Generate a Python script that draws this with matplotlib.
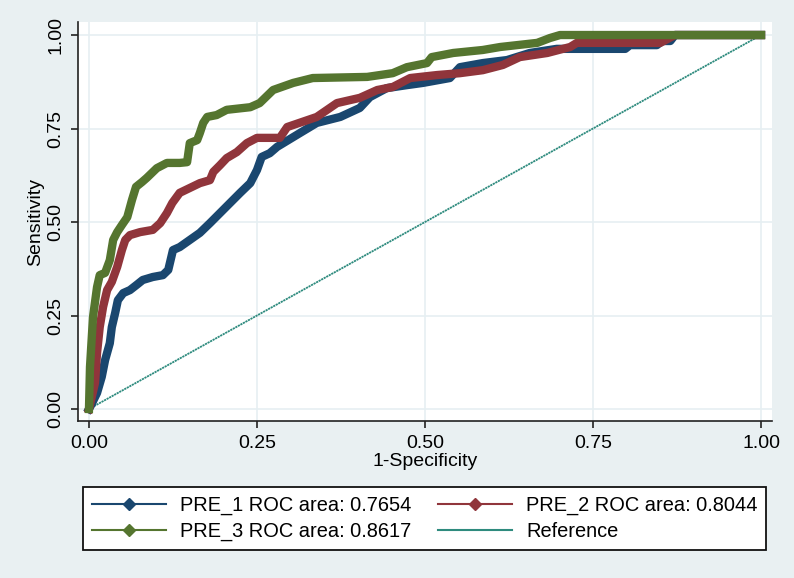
import matplotlib.pyplot as plt
from matplotlib.lines import Line2D

plt.rcParams['font.family'] = ['Liberation Sans', 'DejaVu Sans']

# ROC points (1-specificity, sensitivity)
pre1_x = [0.0, 0.003, 0.012, 0.019, 0.024, 0.031, 0.034, 0.039, 0.043, 0.051, 0.061, 0.071,
          0.080, 0.095, 0.110, 0.118, 0.125, 0.135, 0.150, 0.165, 0.180, 0.195, 0.210, 0.225,
          0.240, 0.250, 0.257, 0.269, 0.280, 0.314, 0.339, 0.374, 0.403, 0.418, 0.443, 0.473,
          0.497, 0.537, 0.552, 0.586, 0.622, 0.656, 0.696, 0.798, 0.805, 0.845, 0.853, 0.865,
          0.872, 1.0]
pre1_y = [0.0, 0.010, 0.043, 0.086, 0.131, 0.176, 0.219, 0.257, 0.291, 0.310, 0.318, 0.332,
          0.345, 0.353, 0.358, 0.372, 0.425, 0.433, 0.452, 0.471, 0.497, 0.524, 0.551, 0.578,
          0.604, 0.639, 0.674, 0.684, 0.701, 0.738, 0.765, 0.781, 0.805, 0.834, 0.858, 0.866,
          0.872, 0.885, 0.914, 0.925, 0.933, 0.952, 0.963, 0.963, 0.973, 0.973, 0.984, 0.984,
          1.0, 1.0]

pre2_x = [0.0, 0.009, 0.012, 0.016, 0.021, 0.027, 0.034, 0.042, 0.049, 0.054, 0.061, 0.076,
          0.095, 0.106, 0.116, 0.124, 0.135, 0.150, 0.165, 0.180, 0.185, 0.195, 0.205, 0.220,
          0.235, 0.250, 0.284, 0.295, 0.339, 0.369, 0.403, 0.429, 0.452, 0.478, 0.518, 0.552,
          0.586, 0.616, 0.641, 0.682, 0.716, 0.726, 0.850, 0.872, 1.0]
pre2_y = [0.0, 0.070, 0.150, 0.219, 0.273, 0.318, 0.340, 0.380, 0.425, 0.452, 0.465, 0.473,
          0.479, 0.497, 0.524, 0.551, 0.578, 0.591, 0.604, 0.612, 0.634, 0.652, 0.671, 0.687,
          0.711, 0.725, 0.725, 0.754, 0.781, 0.818, 0.832, 0.853, 0.861, 0.885, 0.893, 0.898,
          0.906, 0.920, 0.941, 0.952, 0.968, 0.979, 0.979, 1.0, 1.0]

pre3_x = [0.0, 0.0015, 0.006, 0.012, 0.016, 0.024, 0.031, 0.036, 0.042, 0.049, 0.057, 0.064,
          0.070, 0.079, 0.086, 0.101, 0.116, 0.135, 0.146, 0.150, 0.161, 0.165, 0.170, 0.176,
          0.190, 0.205, 0.240, 0.254, 0.274, 0.304, 0.333, 0.414, 0.452, 0.473, 0.503, 0.510,
          0.542, 0.586, 0.612, 0.667, 0.686, 0.701, 1.0]
pre3_y = [0.0, 0.112, 0.246, 0.326, 0.358, 0.364, 0.398, 0.452, 0.473, 0.492, 0.513, 0.559,
          0.594, 0.607, 0.618, 0.644, 0.658, 0.658, 0.660, 0.711, 0.719, 0.738, 0.765, 0.781,
          0.786, 0.800, 0.807, 0.818, 0.853, 0.872, 0.885, 0.888, 0.898, 0.914, 0.925, 0.941,
          0.952, 0.960, 0.968, 0.979, 0.992, 1.0, 1.0]

ref_x = [0, 1]
ref_y = [0, 1]

labels = ['PRE_1 ROC area: 0.7654', 'PRE_2 ROC area: 0.8044',
          'PRE_3 ROC area: 0.8617', 'Reference']
ticks = [0.0, 0.25, 0.5, 0.75, 1.0]
tick_labels = ['0.00', '0.25', '0.50', '0.75', '1.00']

c1, c2, c3, cref = '#1a476f', '#90353b', '#55752f', '#2e8b7e'
bg = '#e9f0f2'

fig = plt.figure(figsize=(7.94, 5.78), dpi=100, facecolor=bg)
ax = fig.add_axes([0.0982, 0.2716, 0.8741, 0.6903], facecolor='white')

ax.plot(ref_x, ref_y, color=cref, lw=1.3, ls=(0, (1.2, 0.4)), zorder=2)
ax.plot(pre1_x, pre1_y, color=c1, lw=6, solid_joinstyle='round', zorder=3)
ax.plot(pre2_x, pre2_y, color=c2, lw=6, solid_joinstyle='round', zorder=4)
ax.plot(pre3_x, pre3_y, color=c3, lw=6, solid_joinstyle='round', zorder=5)

ax.set_xlim(-11 / 672, 1 + 11 / 672)
ax.set_ylim(-12 / 374, 1 + 13 / 374)
ax.set_xticks(ticks)
ax.set_xticklabels(tick_labels)
ax.set_yticks(ticks)
ax.set_yticklabels(tick_labels, rotation=90, va='center')
ax.grid(True, color='#e6eff2', lw=1.2, zorder=0)
ax.set_axisbelow(True)
for s in ['top', 'right']:
    ax.spines[s].set_visible(False)
for s in ['left', 'bottom']:
    ax.spines[s].set_color('#222222')
    ax.spines[s].set_linewidth(1.2)
ax.tick_params(direction='out', length=5, width=1.2, color='#222222',
               labelsize=14, pad=5)
ax.set_xlabel('1-Specificity', fontsize=14, labelpad=1)
ax.set_ylabel('Sensitivity', fontsize=14, labelpad=2)

h1 = Line2D([], [], color=c1, lw=1.5, marker='D', markersize=6)
h2 = Line2D([], [], color=c2, lw=1.5, marker='D', markersize=6)
h3 = Line2D([], [], color=c3, lw=1.5, marker='D', markersize=6)
href = Line2D([], [], color=cref, lw=1.5)
# matplotlib fills legend columns first, so order for row-wise reading
leg = fig.legend([h1, h3, h2, href], [labels[0], labels[2], labels[1], labels[3]],
                 ncol=2, loc='center',
                 bbox_to_anchor=(0.5347, 0.1029), fontsize=14.4,
                 frameon=True, fancybox=False, edgecolor='#111111',
                 facecolor='white', framealpha=1, handlelength=3.7,
                 handletextpad=0.7, columnspacing=1.35, labelspacing=0.35,
                 borderpad=0.45)
leg.get_frame().set_linewidth(1.3)

fig.savefig('out.png', dpi=100, facecolor=bg)
